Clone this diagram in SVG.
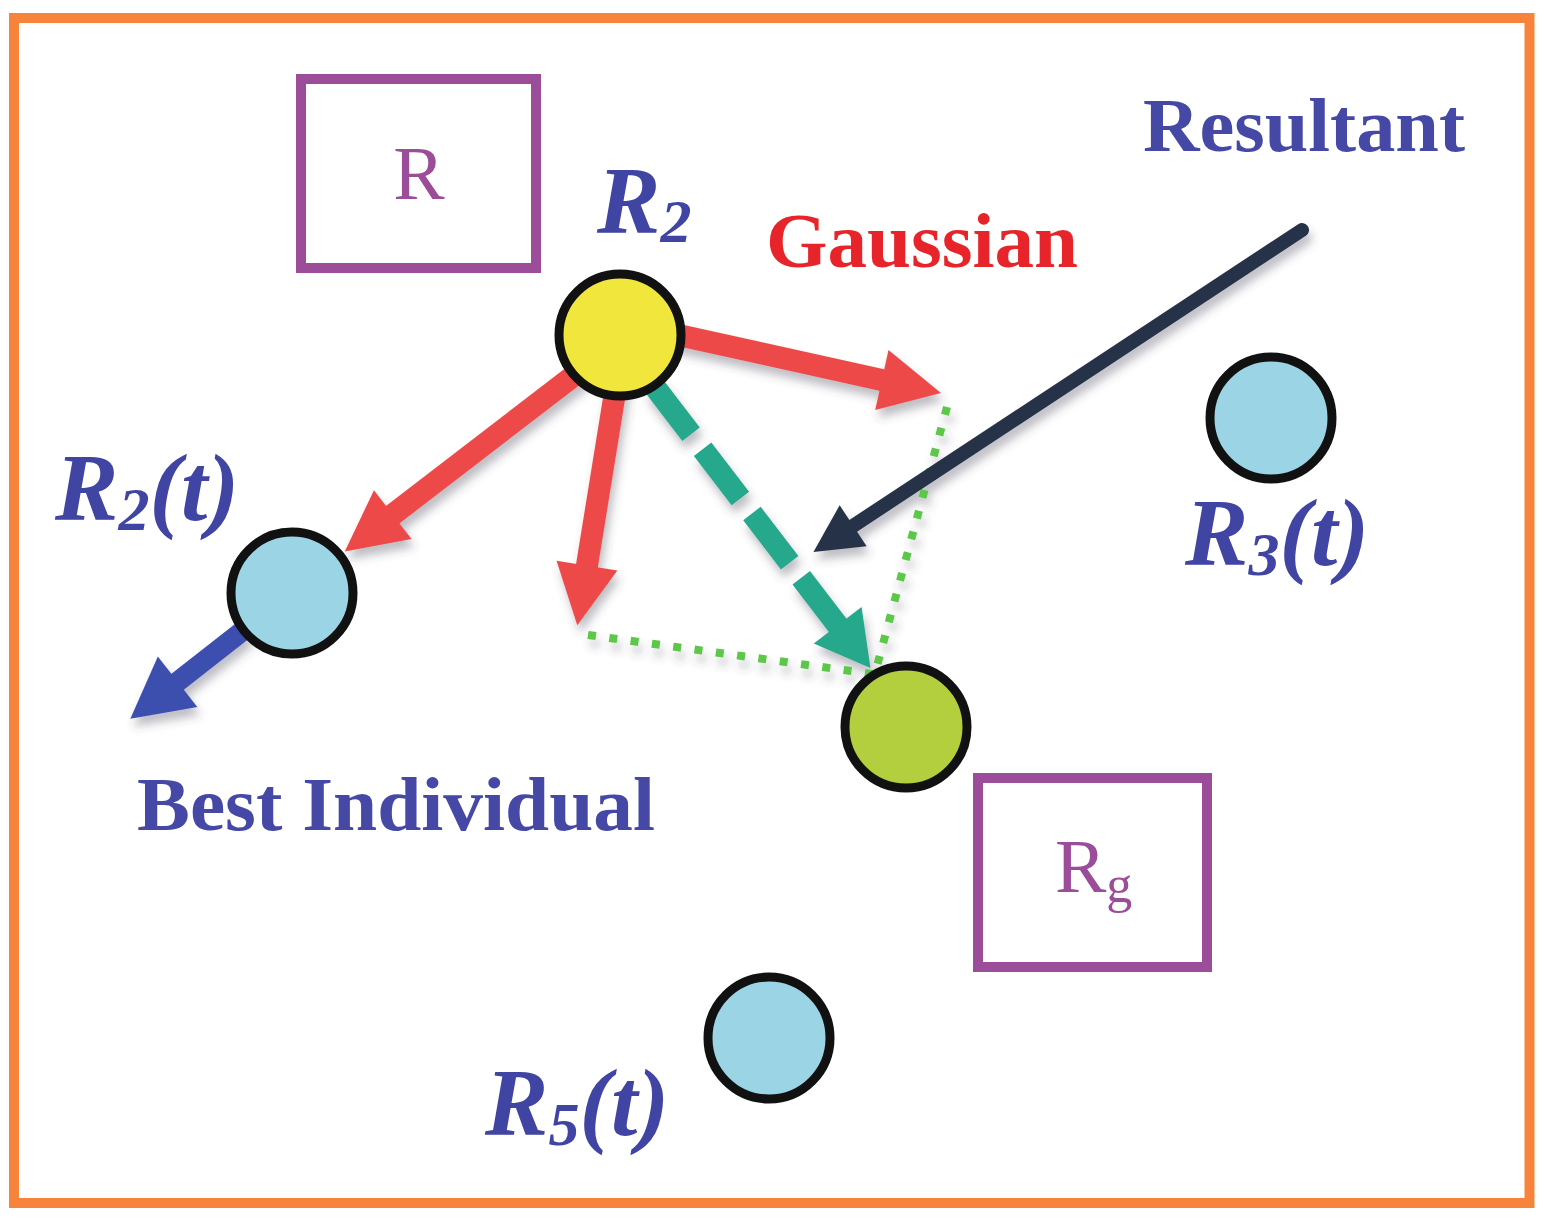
<svg xmlns="http://www.w3.org/2000/svg" width="1545" height="1220" viewBox="0 0 1545 1220">
<style>
  .frame{fill:none;stroke:#F8843C;stroke-width:10}
  .box{fill:#fff;stroke:#9B4D9A;stroke-width:10}
  .boxtxt{font-family:"Liberation Serif",serif;font-size:77px;fill:#9B4D9A}
  .lbl{font-family:"Liberation Serif",serif;font-weight:bold;font-size:77px;fill:#4549A5}
  .gauss{font-family:"Liberation Serif",serif;font-weight:bold;font-size:78px;fill:#E8242B}
  .math{font-family:"Liberation Serif",serif;font-weight:bold;font-style:italic;font-size:95px;fill:#4044A3}
  .node{stroke:#111;stroke-width:9}
  .cyan{fill:#9BD5E5}
  .yel{fill:#F0E63C}
  .grn{fill:#B3CF3E}
  .red{stroke:#EE4A4A;stroke-width:22;fill:none;marker-end:url(#hRed)}
  .teal{stroke:#25A88C;stroke-width:22;fill:none;stroke-dasharray:62 19;marker-end:url(#hTeal)}
  .navy{stroke:#283247;stroke-width:14;fill:none;stroke-linecap:round;marker-end:url(#hNavy)}
  .blue{stroke:#3E50AE;stroke-width:20;fill:none;marker-end:url(#hBlue)}
  .dot{stroke:#5BC748;stroke-width:8;fill:none;stroke-dasharray:8 13.5}
</style>
<defs>
  <filter id="sh" x="-20%" y="-20%" width="140%" height="140%">
    <feDropShadow dx="3" dy="8" stdDeviation="5" flood-color="#445" flood-opacity="0.35"/>
  </filter>
  <marker id="hRed" markerWidth="4" markerHeight="4" refX="0.1" refY="0" orient="auto" overflow="visible">
    <path d="M0,-1.4 L2.75,0 L0,1.4 z" fill="#EE4A4A"/>
  </marker>
  <marker id="hTeal" markerWidth="4" markerHeight="4" refX="0.1" refY="0" orient="auto" overflow="visible">
    <path d="M0,-1.37 L2.45,0 L0,1.37 z" fill="#25A88C"/>
  </marker>
  <marker id="hNavy" markerWidth="4" markerHeight="4" refX="0.1" refY="0" orient="auto" overflow="visible">
    <path d="M0,-1.75 L3.4,0 L0,1.75 z" fill="#283247"/>
  </marker>
  <marker id="hBlue" markerWidth="4" markerHeight="4" refX="0.1" refY="0" orient="auto" overflow="visible">
    <path d="M0,-1.6 L3,0 L0,1.6 z" fill="#3E50AE"/>
  </marker>
</defs>
<rect width="1545" height="1220" fill="#fff"/>
<rect class="frame" x="14" y="18" width="1515.5" height="1185"/>

<g id="connectors" filter="url(#sh)">
  <line class="dot" x1="947" y1="407" x2="877" y2="666"/>
  <line class="dot" x1="588" y1="635" x2="873" y2="674"/>
  <line class="red" x1="660" y1="331" x2="884" y2="380.5"/>
  <line class="red" x1="617" y1="380" x2="586.6" y2="567.8"/>
  <line class="red" x1="585" y1="367" x2="391" y2="516"/>
  <line class="teal" x1="653.3" y1="385" x2="839" y2="627"/>
  <line class="navy" x1="1302" y1="230" x2="852" y2="526.6"/>
  <line class="blue" x1="245" y1="629" x2="176" y2="683"/>
</g>

<g id="box-R">
  <rect class="box" x="301" y="79" width="235" height="189"/>
  <text class="boxtxt" x="419" y="199" text-anchor="middle">R</text>
</g>
<g id="box-Rg">
  <rect class="box" x="978" y="778" width="229" height="189"/>
  <text class="boxtxt" x="1055" y="892">R<tspan font-size="52" dy="10">g</tspan></text>
</g>

<g id="node-R2">
  <circle class="node yel" cx="620" cy="335" r="61"/>
  <text class="math" x="597" y="233" font-size="98">R<tspan font-size="62" dy="9">2</tspan></text>
</g>
<g id="node-R2t">
  <circle class="node cyan" cx="292" cy="593" r="61"/>
  <text class="math" x="55" y="520">R<tspan font-size="62" dy="10">2</tspan><tspan dy="-10">(t)</tspan></text>
</g>
<g id="node-R3t">
  <circle class="node cyan" cx="1271" cy="418" r="61"/>
  <text class="math" x="1185" y="565">R<tspan font-size="62" dy="10">3</tspan><tspan dy="-10">(t)</tspan></text>
</g>
<g id="node-R5t">
  <circle class="node cyan" cx="769" cy="1038" r="61"/>
  <text class="math" x="485" y="1135">R<tspan font-size="62" dy="10">5</tspan><tspan dy="-10">(t)</tspan></text>
</g>
<g id="node-Rg">
  <circle class="node grn" cx="906" cy="727" r="61"/>
</g>

<g id="labels">
  <text class="lbl" x="1143" y="151" textLength="322" lengthAdjust="spacingAndGlyphs">Resultant</text>
  <text class="gauss" x="766" y="267" textLength="312" lengthAdjust="spacingAndGlyphs">Gaussian</text>
  <text class="lbl" x="137" y="830" textLength="518" lengthAdjust="spacingAndGlyphs">Best Individual</text>
</g>
</svg>
